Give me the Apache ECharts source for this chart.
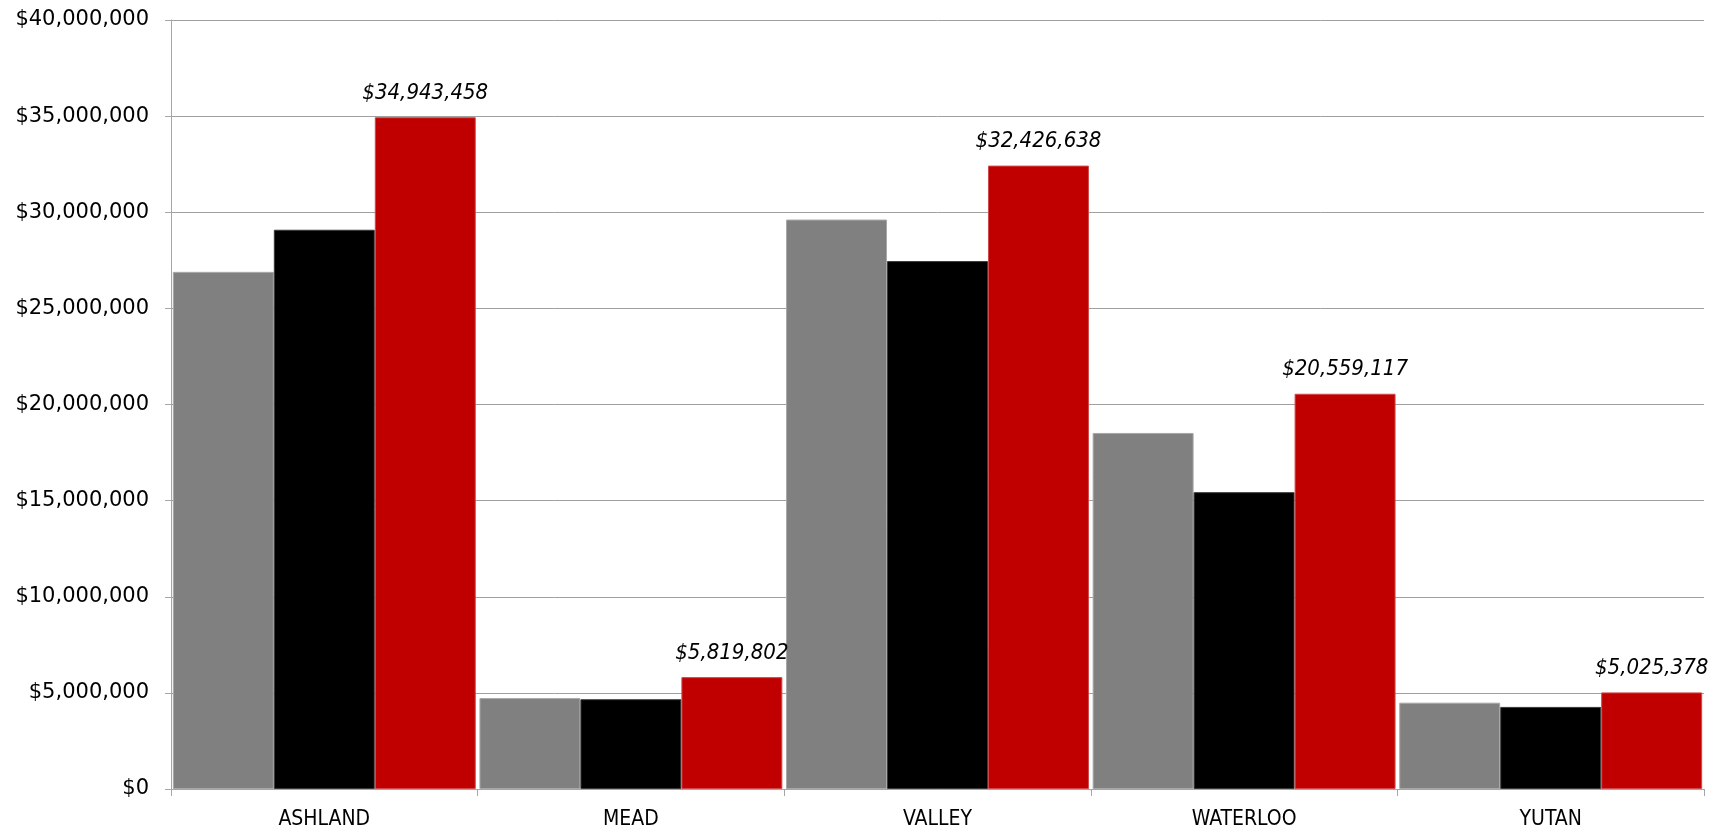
<!DOCTYPE html>
<html>
<head>
<meta charset="utf-8">
<script src="https://cdn.jsdelivr.net/npm/echarts@6/dist/echarts.min.js"></script>
<style>
html,body{margin:0;padding:0;background:#fff;}
#chart{width:1723px;height:833px;}
</style>
</head>
<body>
<div id="chart"></div>
<script>
const categories = ['ASHLAND', 'MEAD', 'VALLEY', 'WATERLOO', 'YUTAN'];
const seriesGray = [26900000, 4730000, 29620000, 18520000, 4490000];
const seriesBlack = [29090000, 4670000, 27460000, 15440000, 4270000];
const seriesRed = [34943458, 5819802, 32426638, 20559117, 5025378];
const yTicks = { min: 0, max: 40000000, interval: 5000000 };

function money(v) {
  return '$' + Number(v).toLocaleString('en-US');
}

const chart = echarts.init(document.getElementById('chart'), null, { renderer: 'canvas' });
chart.setOption({
  animation: false,
  backgroundColor: '#ffffff',
  grid: { left: 171, right: 19, top: 20, bottom: 44, containLabel: false },
  xAxis: {
    type: 'category',
    data: categories,
    axisLine: { lineStyle: { color: '#a6a6a6', width: 1 } },
    axisTick: { show: true, length: 7, alignWithLabel: false, lineStyle: { color: '#a6a6a6' } },
    axisLabel: { color: '#000', fontFamily: 'DejaVu Sans Condensed', fontSize: 21, margin: 20 }
  },
  yAxis: {
    type: 'value',
    min: yTicks.min, max: yTicks.max, interval: yTicks.interval,
    axisLine: { show: true, lineStyle: { color: '#a6a6a6', width: 1 } },
    axisTick: { show: true, length: 6, lineStyle: { color: '#a6a6a6' } },
    splitLine: { show: true, lineStyle: { color: '#a0a0a0', width: 1 } },
    axisLabel: { color: '#000', fontFamily: 'DejaVu Sans', fontSize: 21, margin: 22, formatter: money }
  },
  series: [
    {
      name: 'Series 1', type: 'bar', data: seriesGray,
      barGap: '0%', barCategoryGap: '1.2%',
      itemStyle: { color: '#808080', borderColor: '#a8a8a8', borderWidth: 1 }
    },
    {
      name: 'Series 2', type: 'bar', data: seriesBlack,
      barGap: '0%', barCategoryGap: '1.2%',
      itemStyle: { color: '#000000', borderColor: '#3a3a3a', borderWidth: 1 }
    },
    {
      name: 'Series 3', type: 'bar', data: seriesRed,
      barGap: '0%', barCategoryGap: '1.2%',
      itemStyle: { color: '#c00000', borderColor: '#d04a4a', borderWidth: 1 },
      label: {
        show: true, position: 'top', distance: 13,
        color: '#000', fontFamily: 'DejaVu Sans Condensed', fontStyle: 'italic',
        fontSize: 22, formatter: p => money(p.value)
      }
    }
  ]
});
</script>
</body>
</html>
